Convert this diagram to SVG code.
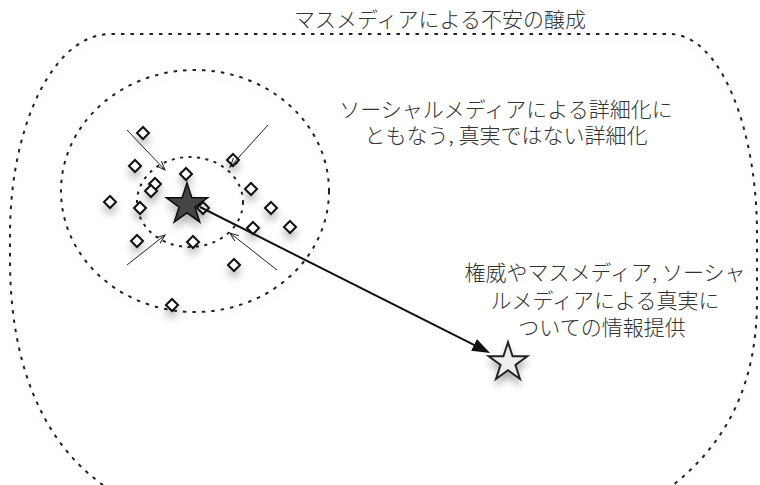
<svg xmlns="http://www.w3.org/2000/svg" xmlns:xlink="http://www.w3.org/1999/xlink" width="760" height="485" viewBox="0 0 760 485">
<style>
.lbl{font-family:"Noto Sans CJK JP","Noto Sans",sans-serif;font-weight:300;font-size:21px;fill:#333;text-anchor:middle}
.dot1{fill:none;stroke:#222;stroke-width:2;stroke-dasharray:3.5 6}
.dot2{fill:none;stroke:#222;stroke-width:2;stroke-dasharray:3 5.5}
.thin{fill:none;stroke:#222;stroke-width:1}
.dia{fill:#fff;stroke:#111;stroke-width:2}
</style>
<defs>
<filter id="sh" x="-60%" y="-60%" width="220%" height="220%">
<feGaussianBlur in="SourceAlpha" stdDeviation="4"/>
<feOffset dy="6"/>
<feComponentTransfer><feFuncA type="linear" slope="0.3"/></feComponentTransfer>
<feMerge><feMergeNode/><feMergeNode in="SourceGraphic"/></feMerge>
</filter>
<filter id="shl" x="-10%" y="-10%" width="120%" height="120%">
<feGaussianBlur in="SourceAlpha" stdDeviation="5"/>
<feOffset dy="6"/>
<feComponentTransfer><feFuncA type="linear" slope="0.12"/></feComponentTransfer>
<feMerge><feMergeNode/><feMergeNode in="SourceGraphic"/></feMerge>
</filter>
<path id="star" d="M0,-21 L4.71,-6.49 L19.97,-6.49 L7.63,2.48 L12.34,16.99 L0,8.02 L-12.34,16.99 L-7.63,2.48 L-19.97,-6.49 L-4.71,-6.49 Z"/>
<path id="dm" class="dia" d="M0,-6 L6,0 L0,6 L-6,0 Z"/>
<marker id="open" markerUnits="userSpaceOnUse" markerWidth="10" markerHeight="8" refX="9" refY="3.5" orient="auto">
<path d="M0,0 L9,3.5 L0,7" fill="none" stroke="#222" stroke-width="1"/>
</marker>
<marker id="big" markerUnits="userSpaceOnUse" markerWidth="20" markerHeight="14" refX="10" refY="6.5" orient="auto">
<path d="M0,0 L18,6.5 L0,13 Z" fill="#111"/>
</marker>
</defs>
<rect width="760" height="485" fill="#fff"/>

<g id="mass-media">
<path class="dot1" filter="url(#shl)" d="M103,485 C40,440 10,360 10,260 L10,235 A100 200 0 0 1 110,34 L670,34 A87 200 0 0 1 757,234 L757,300 C757,380 730,440 673,485"/>
<text class="lbl" x="440" y="27">マスメディアによる不安の醸成</text>
</g>

<g id="social-media">
<ellipse class="dot1" filter="url(#shl)" cx="195" cy="191" rx="134" ry="121"/>
<text class="lbl" x="506" y="117">ソーシャルメディアによる詳細化に</text>
<text class="lbl" x="506" y="143">ともなう, 真実ではない詳細化</text>
</g>

<g id="core">
<ellipse class="dot2" cx="190" cy="202" rx="53" ry="45"/>
</g>

<g id="details" filter="url(#sh)">
<use xlink:href="#dm" x="143" y="133"/>
<use xlink:href="#dm" x="135" y="166"/>
<use xlink:href="#dm" x="233" y="160"/>
<use xlink:href="#dm" x="186" y="174"/>
<use xlink:href="#dm" x="155" y="184"/>
<use xlink:href="#dm" x="151" y="191"/>
<use xlink:href="#dm" x="110" y="202"/>
<use xlink:href="#dm" x="140" y="208"/>
<use xlink:href="#dm" x="203" y="208"/>
<use xlink:href="#dm" x="251" y="189"/>
<use xlink:href="#dm" x="271" y="208"/>
<use xlink:href="#dm" x="290" y="227"/>
<use xlink:href="#dm" x="253" y="228"/>
<use xlink:href="#dm" x="137" y="241"/>
<use xlink:href="#dm" x="193" y="242"/>
<use xlink:href="#dm" x="234" y="265"/>
<use xlink:href="#dm" x="172" y="305"/>
</g>

<g id="false-star" filter="url(#sh)">
<use xlink:href="#star" transform="translate(187,204.5) scale(1.03)" fill="#444" stroke="#111" stroke-width="1.5"/>
</g>

<g id="connectors">
<line class="thin" x1="127" y1="130" x2="165" y2="170" marker-end="url(#open)"/>
<line class="thin" x1="268" y1="125" x2="230" y2="167" marker-end="url(#open)"/>
<line class="thin" x1="127" y1="265" x2="165" y2="235" marker-end="url(#open)"/>
<line class="thin" x1="277" y1="270" x2="230" y2="233" marker-end="url(#open)"/>
<line x1="200" y1="207" x2="482.9" y2="349.4" stroke="#111" stroke-width="2" marker-end="url(#big)"/>
</g>

<g id="true-star">
<use xlink:href="#star" filter="url(#sh)" transform="translate(508,362.5) scale(0.97)" fill="#eeeef0" stroke="#222" stroke-width="2"/>
<text class="lbl" x="605" y="280">権威やマスメディア, ソーシャ</text>
<text class="lbl" x="605" y="308">ルメディアによる真実に</text>
<text class="lbl" x="602" y="335">ついての情報提供</text>
</g>
</svg>
